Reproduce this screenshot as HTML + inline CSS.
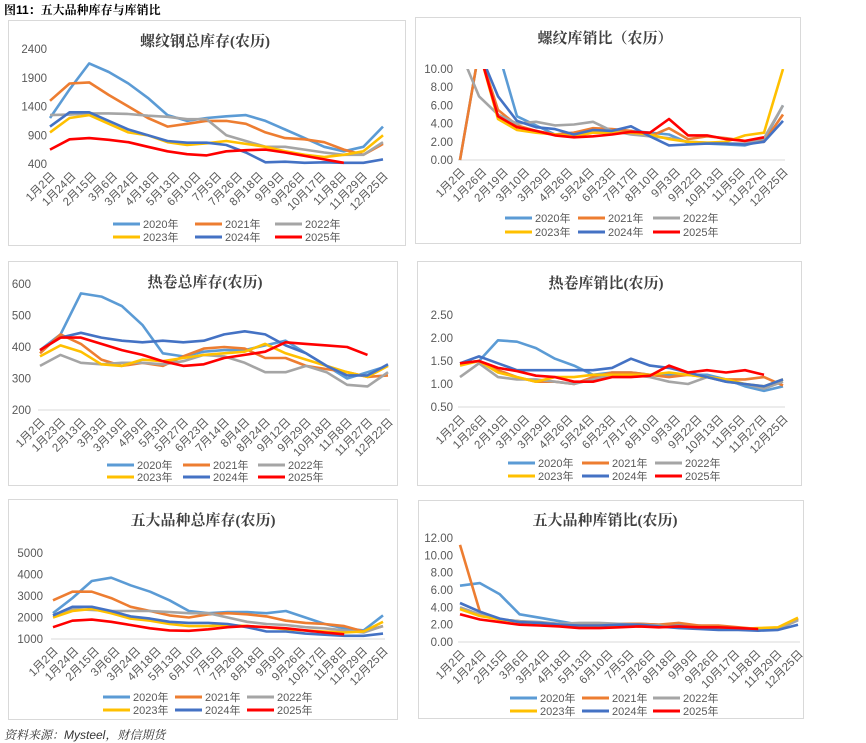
<!DOCTYPE html>
<html><head><meta charset="utf-8"><style>
body{margin:0;background:#fff;}
svg{display:block;font-family:"Liberation Sans","Noto Sans CJK SC",sans-serif;}
.t{font-family:"Liberation Serif","Noto Serif CJK SC",serif;font-weight:bold;font-size:15px;fill:#404040;}
</style></head><body>
<svg id="s" width="866" height="743" viewBox="0 0 866 743">
<text x="4" y="14" font-size="12" font-weight="bold" fill="#000" style="font-family:'Liberation Sans','Noto Serif CJK SC',serif">图11：五大品种库存与库销比</text>
<text x="4" y="739" font-size="12" font-style="italic" fill="#333" style="font-family:'Liberation Sans','Noto Serif CJK SC',serif">资料来源：Mysteel，财信期货</text>
</svg>
<script>
const years=["2020年","2021年","2022年","2023年","2024年","2025年"];
const colors=["#5B9BD5","#ED7D31","#A5A5A5","#FFC000","#4472C4","#FF0000"];
const catsA=["1月2日","1月24日","2月15日","3月6日","3月24日","4月18日","5月13日","6月10日","7月5日","7月26日","8月18日","9月9日","9月26日","10月17日","11月8日","11月29日","12月25日"];
const catsB=["1月2日","1月26日","2月19日","3月10日","3月29日","4月26日","5月24日","6月23日","7月17日","8月10日","9月3日","9月22日","10月13日","11月5日","11月27日","12月25日"];
const catsC=["1月2日","1月23日","2月13日","3月3日","3月19日","4月9日","5月3日","5月27日","6月23日","7月14日","8月4日","8月24日","9月12日","9月29日","10月18日","11月8日","11月27日","12月22日"];
const rebarInvTicks=[400,900,1400,1900,2400];
const rebarInv2020=[1200,1700,2150,2000,1800,1550,1250,1150,1200,1230,1250,1150,1000,850,700,620,700,1050];
const rebarInv2021=[1500,1800,1820,1600,1400,1200,1050,1100,1150,1150,1100,950,850,830,780,650,560,750];
const rebarInv2022=[1250,1260,1280,1280,1270,1240,1220,1180,1180,900,800,700,700,650,600,560,560,780];
const rebarInv2023=[950,1200,1250,1100,950,900,780,730,760,800,750,700,620,560,520,560,620,900];
const rebarInv2024=[1050,1300,1300,1150,1000,900,800,770,770,730,600,430,440,420,430,420,420,480];
const rebarInv2025=[650,830,850,820,780,700,620,570,550,620,640,650,600,540,480,420];
const rebarRatioTicks=[0,2,4,6,8,10];
const rebarRatio2020=[0,12,12,4.8,3.8,2.8,3.0,3.2,3.3,3.2,3.0,2.8,1.9,1.8,1.7,1.6,2.2,6];
const rebarRatio2021=[0,12,5.5,3.8,3.2,2.8,3.0,3.5,3.4,3.2,2.6,3.5,2.3,2.6,2.4,2.1,2.0,5];
const rebarRatio2022=[12,7,5,4,4.2,3.8,3.9,4.2,3.2,2.8,2.6,2.4,2.0,1.9,1.8,1.8,2.4,6];
const rebarRatio2023=[12,12,4.5,3.3,3.0,2.8,2.6,3.0,3.0,3.0,2.8,2.3,2.0,1.9,2.0,2.7,3.0,10];
const rebarRatio2024=[12,12,7,4.3,3.6,3.4,2.8,3.3,3.2,3.7,2.6,1.6,1.7,1.8,1.8,1.7,2.0,4.3];
const rebarRatio2025=[12,12,4.8,3.6,3.2,2.7,2.5,2.6,2.8,3.1,3.0,4.5,2.7,2.7,2.3,2.1,2.5];
const hrcInvTicks=[200,300,400,500,600];
const hrcInv2020=[390,440,570,560,530,470,380,370,385,390,390,405,420,380,340,300,320,340];
const hrcInv2021=[380,440,410,360,340,350,340,370,395,400,395,365,365,340,330,320,305,310];
const hrcInv2022=[340,375,350,345,350,350,345,355,375,370,350,320,320,340,320,280,275,320];
const hrcInv2023=[370,405,385,345,340,360,355,365,375,380,385,410,380,360,340,320,305,340];
const hrcInv2024=[390,430,445,430,420,415,420,415,420,440,450,440,405,380,340,310,310,345];
const hrcInv2025=[390,430,430,410,390,375,355,340,345,365,375,385,415,410,405,400,375];
const hrcRatioTicks=[0.5,1,1.5,2,2.5];
const hrcRatio2020=[1.45,1.5,1.95,1.92,1.78,1.55,1.4,1.2,1.25,1.25,1.2,1.2,1.2,1.2,1.1,0.95,0.85,0.95];
const hrcRatio2021=[1.45,1.5,1.3,1.15,1.05,1.05,1.0,1.15,1.25,1.25,1.2,1.15,1.2,1.15,1.1,1.1,1.15,0.97];
const hrcRatio2022=[1.15,1.45,1.15,1.1,1.1,1.05,1.0,1.1,1.2,1.2,1.15,1.05,1.0,1.15,1.05,1.0,0.9,1.05];
const hrcRatio2023=[1.4,1.5,1.25,1.15,1.05,1.15,1.15,1.2,1.2,1.2,1.2,1.25,1.2,1.15,1.1,1.0,0.95,1.1];
const hrcRatio2024=[1.45,1.6,1.45,1.3,1.3,1.3,1.3,1.3,1.35,1.55,1.4,1.35,1.25,1.15,1.05,1.0,0.95,1.1];
const hrcRatio2025=[1.45,1.5,1.35,1.28,1.18,1.15,1.05,1.05,1.15,1.15,1.18,1.4,1.25,1.3,1.25,1.3,1.2];
const totInvTicks=[1000,2000,3000,4000,5000];
const totInv2020=[2200,2900,3700,3850,3500,3200,2800,2300,2200,2250,2250,2200,2300,2000,1700,1500,1400,2100];
const totInv2021=[2800,3200,3200,2900,2500,2300,2100,2000,2150,2200,2150,2050,1850,1750,1700,1600,1350,1600];
const totInv2022=[2100,2400,2350,2300,2300,2300,2250,2200,2200,2000,1800,1700,1650,1550,1500,1400,1300,1600];
const totInv2023=[2000,2300,2400,2200,1950,1850,1700,1600,1600,1650,1600,1550,1450,1400,1350,1300,1350,1800];
const totInv2024=[2100,2500,2500,2300,2050,1950,1800,1750,1750,1700,1550,1350,1350,1250,1200,1150,1150,1250];
const totInv2025=[1550,1850,1900,1800,1650,1500,1400,1380,1450,1550,1600,1550,1500,1400,1300,1220];
const totRatioTicks=[0,2,4,6,8,10,12];
const totRatio2020=[6.5,6.8,5.5,3.2,2.8,2.4,2.0,2.0,2.1,2.1,2.0,2.0,1.9,1.7,1.5,1.4,1.5,2.7];
const totRatio2021=[11.2,3.5,2.6,2.4,2.2,2.0,2.0,2.0,2.1,2.1,2.0,2.2,1.9,1.9,1.7,1.5,1.6,2.6];
const totRatio2022=[4.0,3.2,2.6,2.4,2.3,2.1,2.2,2.2,2.1,2.0,1.9,1.7,1.7,1.6,1.5,1.4,1.5,2.5];
const totRatio2023=[3.8,3.0,2.6,2.3,2.1,1.9,1.8,1.8,1.9,1.8,1.8,1.7,1.6,1.5,1.5,1.6,1.7,2.8];
const totRatio2024=[4.5,3.5,2.7,2.3,2.2,2.0,1.9,1.9,2.0,2.0,1.8,1.6,1.5,1.4,1.4,1.3,1.4,2.0];
const totRatio2025=[3.2,2.6,2.3,2.0,1.9,1.8,1.6,1.6,1.7,1.8,1.7,1.8,1.7,1.7,1.6,1.5];

const NS="http://www.w3.org/2000/svg";
const svg=document.getElementById("s");
function mk(tag,attrs,parent){const e=document.createElementNS(NS,tag);for(const k in attrs)e.setAttribute(k,attrs[k]);(parent||svg).appendChild(e);return e;}

const panels=[
 {id:"rebar-inventory",box:[8,20,397,225],title:"螺纹钢总库存(农历)",tx:205,ty:46,L:50,R:383,min:400,max:2400,yTop:49,yBot:164,lr:47,dec:0,ticks:rebarInvTicks,cats:catsA,series:[rebarInv2020,rebarInv2021,rebarInv2022,rebarInv2023,rebarInv2024,rebarInv2025],leg:[113,195,275],ly:[224,237],axis:false},
 {id:"rebar-ratio",box:[415,17,385,226],title:"螺纹库销比（农历）",tx:605,ty:43,L:460,R:783,min:0,max:10,yTop:69,yBot:160,lr:453,dec:2,ticks:rebarRatioTicks,cats:catsB,series:[rebarRatio2020,rebarRatio2021,rebarRatio2022,rebarRatio2023,rebarRatio2024,rebarRatio2025],leg:[505,578,653],ly:[218,232],axis:true},
 {id:"hrc-inventory",box:[8,261,389,224],title:"热卷总库存(农历)",tx:205,ty:287,L:40,R:388,min:200,max:600,yTop:284,yBot:410,lr:31,dec:0,ticks:hrcInvTicks,cats:catsC,series:[hrcInv2020,hrcInv2021,hrcInv2022,hrcInv2023,hrcInv2024,hrcInv2025],leg:[107,183,258],ly:[465,477],axis:true},
 {id:"hrc-ratio",box:[417,261,384,224],title:"热卷库销比(农历)",tx:606,ty:288,L:460,R:783,min:0.5,max:2.5,yTop:315,yBot:407,lr:453,dec:2,ticks:hrcRatioTicks,cats:catsB,series:[hrcRatio2020,hrcRatio2021,hrcRatio2022,hrcRatio2023,hrcRatio2024,hrcRatio2025],leg:[508,582,655],ly:[463,476],axis:true},
 {id:"total-inventory",box:[8,499,389,220],title:"五大品种总库存(农历)",tx:203,ty:525,L:53,R:383,min:1000,max:5000,yTop:553,yBot:639,lr:43,dec:0,ticks:totInvTicks,cats:catsA,series:[totInv2020,totInv2021,totInv2022,totInv2023,totInv2024,totInv2025],leg:[103,175,247],ly:[697,710],axis:true},
 {id:"total-ratio",box:[418,500,385,218],title:"五大品种库销比(农历)",tx:605,ty:525,L:460,R:798,min:0,max:12,yTop:538,yBot:642,lr:453,dec:2,ticks:totRatioTicks,cats:catsA,series:[totRatio2020,totRatio2021,totRatio2022,totRatio2023,totRatio2024,totRatio2025],leg:[510,582,653],ly:[698,711],axis:true}
];

panels.forEach((p,pi)=>{
  const g=mk("g",{});
  
  
  const b=mk("rect",{x:p.box[0]+0.5,y:p.box[1]+0.5,width:p.box[2],height:p.box[3],fill:"#fff",stroke:"#d9d9d9"},g);
  
  
  const t=mk("text",{x:p.tx,y:p.ty,"text-anchor":"middle",class:"t"},g);
  t.textContent=p.title;
  
  
  const yS=v=>p.yBot-(v-p.min)/(p.max-p.min)*(p.yBot-p.yTop);
  p.ticks.forEach(v=>{
    const tl=mk("text",{x:p.lr,y:yS(v)+4,"text-anchor":"end","font-size":"11.5",fill:"#595959"},g);
    tl.textContent=v.toFixed(p.dec);
    
    
  });
  if(p.axis){
    const al=mk("line",{x1:p.L-2,x2:p.R+2,y1:p.yBot,y2:p.yBot,stroke:"#d9d9d9"},g);
    
    
  }
  const nc=p.cats.length;
  p.cats.forEach((c,i)=>{
    const x=p.L+(p.R-p.L)*i/(nc-1), y=p.yBot+7;
    const tl=mk("text",{x:x,y:y,"text-anchor":"end","font-size":"11.5",fill:"#595959",transform:`rotate(-45 ${x} ${y})`,dy:"0.7em"},g);
    tl.textContent=c;
    
    
  });
  const cid="clip"+pi;
  const cp=mk("clipPath",{id:cid},g);
  mk("rect",{x:p.L-3,y:p.yTop,width:p.R-p.L+6,height:p.yBot-p.yTop+2},cp);
  const NF=18;
  p.series.forEach((arr,si)=>{
    const xS=i=>p.L+(p.R-p.L)*i/(NF-1);
    const pts=arr.map((v,i)=>xS(i).toFixed(1)+","+yS(v).toFixed(1)).join(" ");
    const pl=mk("polyline",{points:pts,fill:"none",stroke:colors[si],"stroke-width":"2.6","stroke-linejoin":"round","clip-path":`url(#${cid})`},g);
    
    
  });
  years.forEach((y,si)=>{
    const lx=p.leg[si%3], ly=p.ly[Math.floor(si/3)];
    const le=mk("g",{},g);
    
    
    mk("line",{x1:lx,x2:lx+27,y1:ly,y2:ly,stroke:colors[si],"stroke-width":"3"},le);
    const lt=mk("text",{x:lx+30,y:ly+4,"font-size":"11",fill:"#595959"},le);
    lt.textContent=y;
  });
});
</script>
</body></html>
